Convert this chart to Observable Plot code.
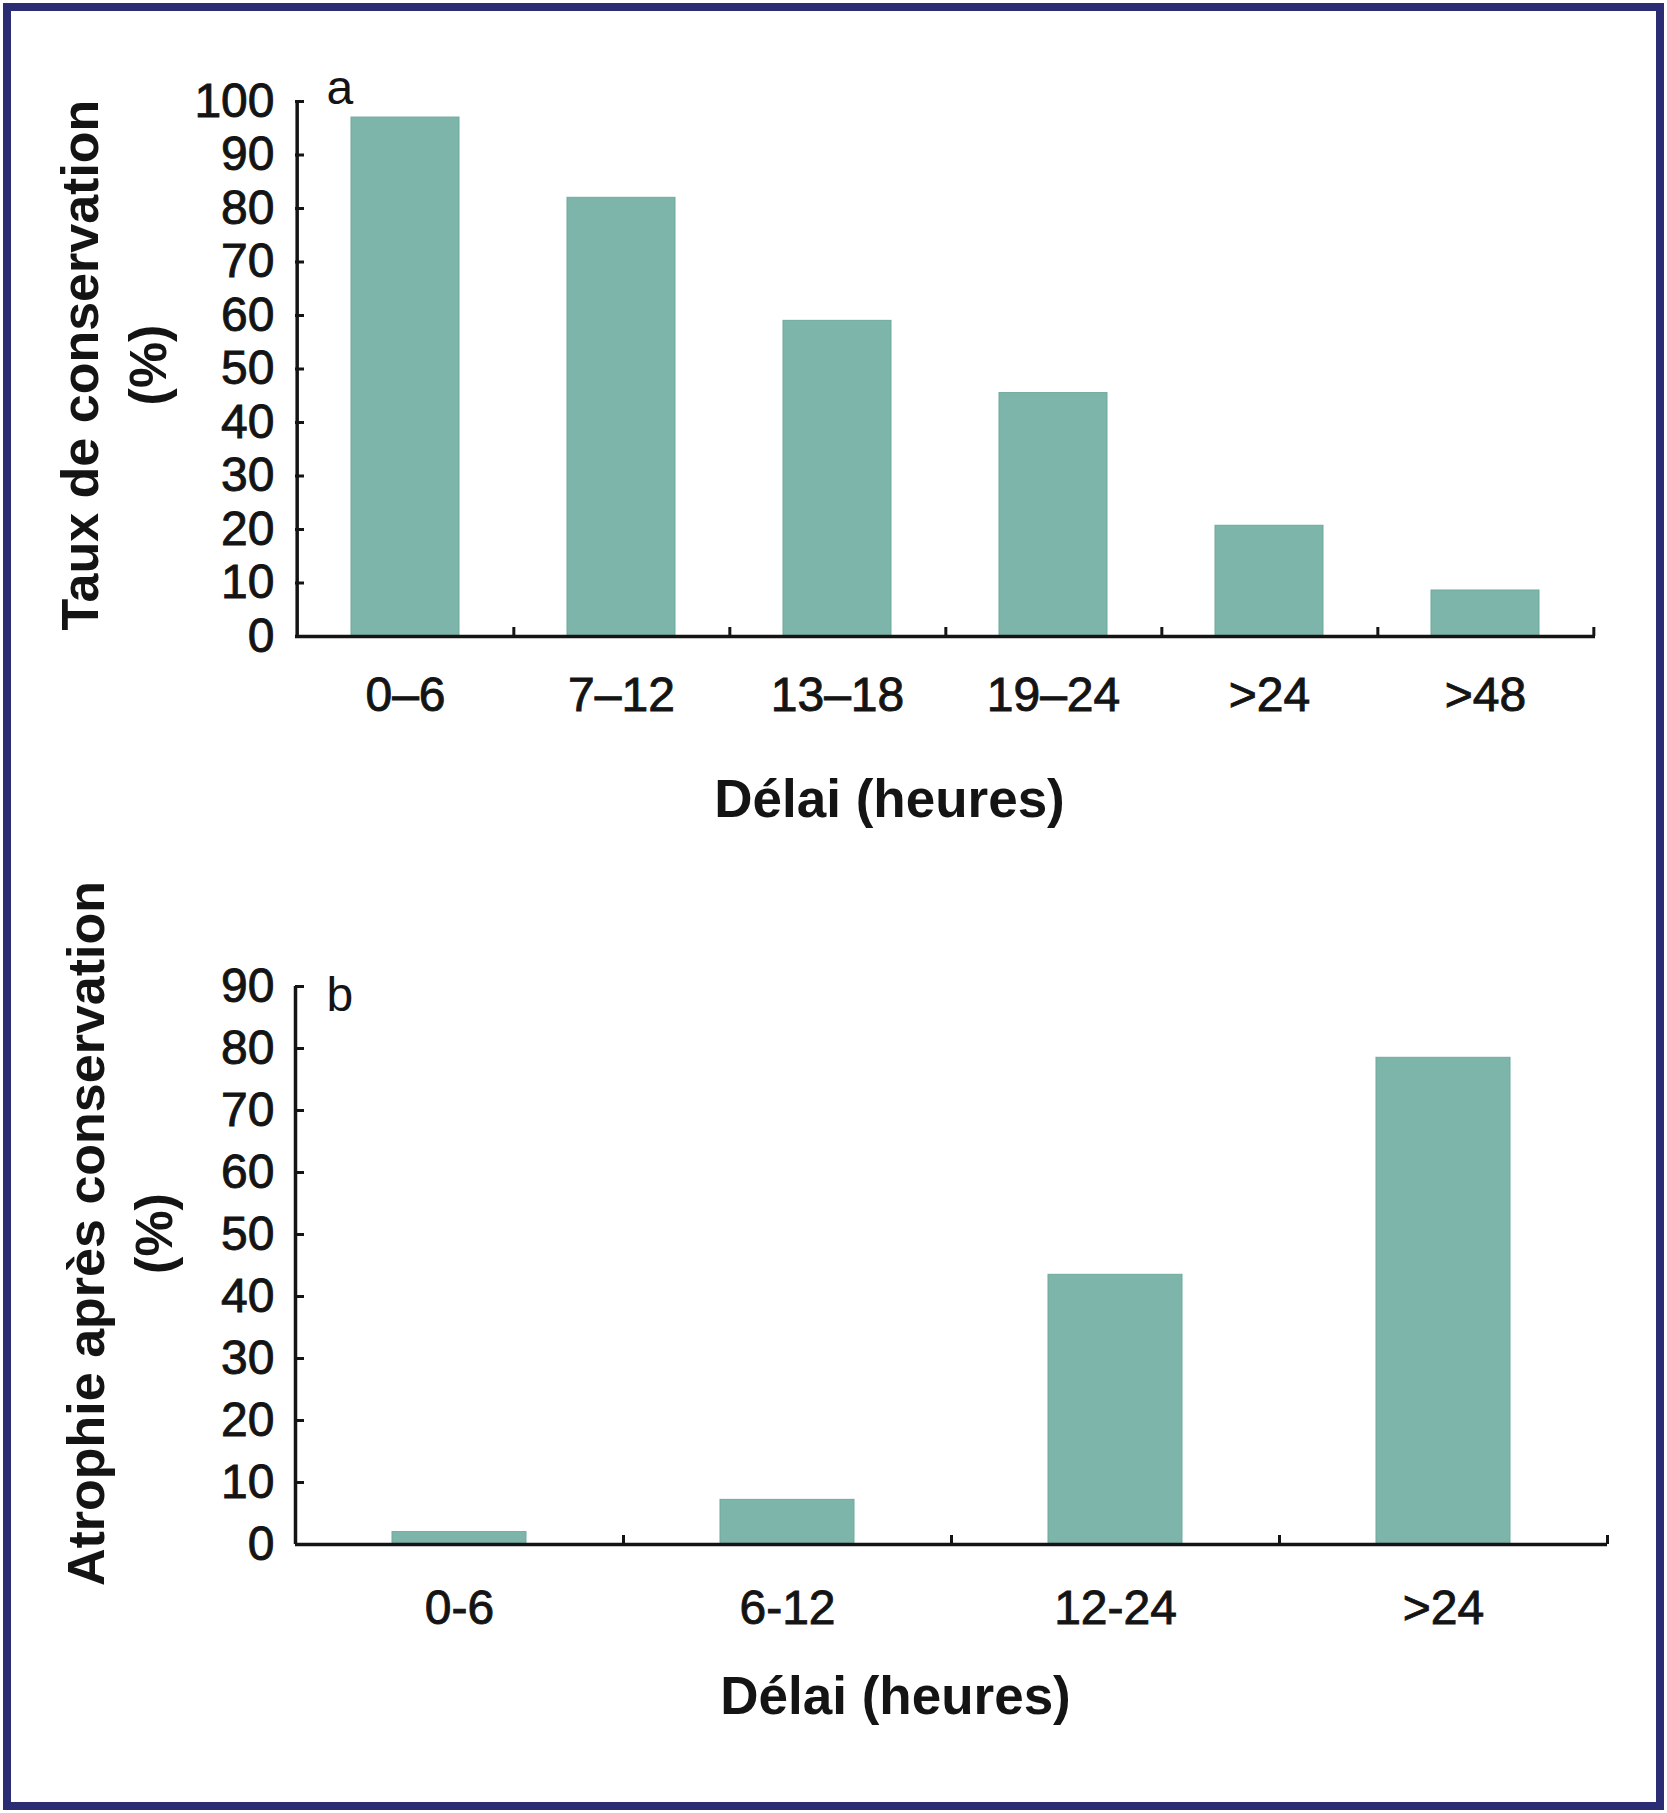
<!DOCTYPE html>
<html>
<head>
<meta charset="utf-8">
<script src="https://cdn.jsdelivr.net/npm/d3@7"></script>
<script src="https://cdn.jsdelivr.net/npm/@observablehq/plot@0.6"></script>
<style>
  html, body { margin: 0; padding: 0; background: #fff; overflow: hidden; }
  #page { position: relative; width: 1667px; height: 1813px; background: #fff; }
  #border { position: absolute; left: 3px; top: 3px; width: 1661px; height: 1807px; box-sizing: border-box; border: 8px solid #2b2d74; pointer-events: none; }
  .panel { position: absolute; left: 0; }
  #panelA { top: 0; }
  #panelB { top: 880px; }
  .panel g[aria-label="y-axis tick label"] text,
  .panel g[aria-label="x-axis tick label"] text { stroke: #141414; stroke-width: 0.9px; }
</style>
</head>
<body>
<div id="page">
  <div id="panelA" class="panel"></div>
  <div id="panelB" class="panel"></div>
  <div id="border"></div>
</div>
<script>
// ---- Data ----
const categoriesA = ["0–6", "7–12", "13–18", "19–24", ">24", ">48"];
const valuesA = [97, 82, 59, 45.5, 20.7, 8.6];
const yTicksA = [0, 10, 20, 30, 40, 50, 60, 70, 80, 90, 100];
const yTitleA = "Taux de conservation\n(%)";
const panelLabelA = "a";

const categoriesB = ["0-6", "6-12", "12-24", ">24"];
const valuesB = [2, 7.2, 43.5, 78.5];
const yTicksB = [0, 10, 20, 30, 40, 50, 60, 70, 80, 90];
const yTitleB = "Atrophie après conservation\n(%)";
const panelLabelB = "b";

const xTitle = "Délai (heures)";

// ---- Style ----
const barColor = "#7db5ab";
const ink = "#141414";
const font = "'Liberation Sans', Arial, Helvetica, sans-serif";

function panel({cats, vals, ticks, yTitle, label, height, mt, mb, ml, mr, padInner, tickPad, titleDy, yTitleDx, yTitleDy, labelDy}) {
  const W = 1667;
  const step = (W - ml - mr) / cats.length;
  const data = cats.map((c, i) => ({cat: c, value: vals[i]}));
  const yMax = ticks[ticks.length - 1];
  return Plot.plot({
    width: W,
    height,
    marginTop: mt, marginBottom: mb, marginLeft: ml, marginRight: mr,
    style: {fontFamily: font, color: ink, background: "transparent", overflow: "visible"},
    x: {domain: cats, paddingInner: padInner, paddingOuter: padInner / 2, axis: null},
    y: {domain: [0, yMax], axis: null},
    marks: [
      Plot.barY(data, {x: "cat", y: "value", fill: barColor, stroke: "#6faa9e", strokeWidth: 1}),
      // x axis line
      Plot.ruleY([0], {stroke: ink, strokeWidth: 3.5}),
      // y axis line
      Plot.ruleX([cats[0]], {dx: -step / 2, y1: 0, y2: yMax, stroke: ink, strokeWidth: 3.5}),
      // inward y ticks
      Plot.axisY(ticks, {anchor: "left", tickSize: 9, dx: 9, tickFormat: () => "", label: null, stroke: ink, strokeWidth: 3, ariaLabel: "y-axis tick mark"}),
      // y tick labels
      Plot.axisY(ticks, {anchor: "left", tickSize: 0, tickPadding: 21, fontSize: 48, label: null, fill: ink}),
      // inward x ticks at band boundaries
      Plot.axisX(cats, {anchor: "bottom", tickSize: 9, dx: step / 2, dy: -9, tickFormat: () => "", label: null, stroke: ink, strokeWidth: 3, ariaLabel: "x-axis tick mark"}),
      // x tick labels
      Plot.axisX(cats, {anchor: "bottom", tickSize: 0, tickPadding: tickPad, fontSize: 48, label: null, fill: ink}),
      // x title
      Plot.text([xTitle], {text: d => d, frameAnchor: "bottom", textAnchor: "middle", dx: -56, dy: titleDy, fontSize: 53, fontWeight: "bold", fill: ink}),
      // y title
      Plot.text([yTitle], {text: d => d, frameAnchor: "left", textAnchor: "middle", lineAnchor: "middle", rotate: -90, dx: yTitleDx, dy: yTitleDy, fontSize: 52, fontWeight: "bold", lineHeight: 1.3, fill: ink}),
      // panel letter
      Plot.text([label], {text: d => d, frameAnchor: "top-left", textAnchor: "start", dx: 31, dy: labelDy, fontSize: 48, fill: ink})
    ]
  });
}

document.getElementById("panelA").append(panel({
  cats: categoriesA, vals: valuesA, ticks: yTicksA, yTitle: yTitleA, label: panelLabelA,
  height: 880, mt: 101, mb: 244, ml: 295, mr: 72, padInner: 0.5,
  tickPad: 40, titleDy: 180, yTitleDx: -185, yTitleDy: -4, labelDy: -32
}));

document.getElementById("panelB").append(panel({
  cats: categoriesB, vals: valuesB, ticks: yTicksB, yTitle: yTitleB, label: panelLabelB,
  height: 933, mt: 106, mb: 269, ml: 295, mr: 60, padInner: 0.59,
  tickPad: 45, titleDy: 169, yTitleDx: -179, yTitleDy: -32, labelDy: -10
}));
</script>
</body>
</html>
